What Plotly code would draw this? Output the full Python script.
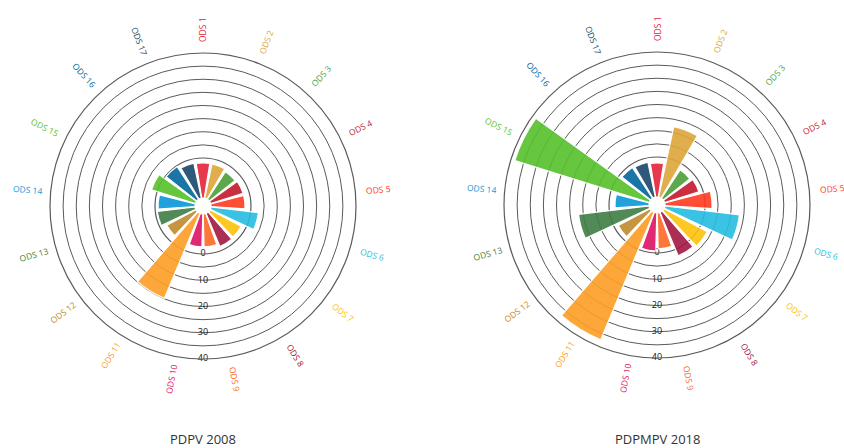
import math
import plotly.graph_objects as go

categories = [f"ODS {i}" for i in range(1, 18)]
sdg_colors = ["#E5243B", "#DDA63A", "#4C9F38", "#C5192D", "#FF3A21", "#26BDE2",
              "#FCC30B", "#A21942", "#FD6925", "#DD1367", "#FD9D24", "#BF8B2E",
              "#3F7E44", "#0A97D9", "#56C02B", "#00689D", "#19486A"]
values_2008 = [9.7, 9.7, 9.1, 9.4, 9.4, 13.2, 9.7, 9.9, 9.1, 9.1, 25.4, 9.1,
               10.5, 10.2, 12.7, 10.8, 9.9]
values_2018 = [9.4, 19.9, 9.4, 9.9, 13.0, 20.7, 13.5, 13.0, 9.9, 10.5, 38.1, 9.9,
               19.6, 9.4, 38.9, 10.2, 9.9]
ring_values = [0, 5, 10, 15, 20, 25, 30, 35, 40]
tick_labels = ["0", "10", "20", "30", "40"]
tick_values = [0, 10, 20, 30, 40]
titles = ["PDPV 2008", "PDPMPV 2018"]

W, H = 844, 448
R = 153
centers = [(203, 206), (657, 205)]
ring_color = "#5a5a5a"

fig = go.Figure()
layout = dict(width=W, height=H, margin=dict(l=0, r=0, t=0, b=0),
              paper_bgcolor="white", plot_bgcolor="white", showlegend=False)
annotations = []

for k, (vals, (cx, cy)) in enumerate(zip([values_2008, values_2018], centers)):
    dom_x = [(cx - R) / W, (cx + R) / W]
    dom_y = [(H - cy - R) / H, (H - cy + R) / H]
    ring_name = "polar" if k == 0 else f"polar{2*k+1}"
    bar_name = f"polar{2*k+2}"
    # rings / radial scale
    fig.add_trace(go.Scatterpolar(
        r=tick_values, theta=[180] * len(tick_values), mode="text",
        text=tick_labels, textfont=dict(size=9, color="#111", family="Open Sans"),
        textposition="middle center", subplot=ring_name, hoverinfo="skip"))
    layout[ring_name] = dict(
        domain=dict(x=dom_x, y=dom_y), hole=48 / 153, bgcolor="rgba(0,0,0,0)",
        radialaxis=dict(range=[0, 40], tickvals=ring_values, showticklabels=False,
                        showgrid=True, gridcolor=ring_color, gridwidth=1.2,
                        showline=False, ticks=""),
        angularaxis=dict(rotation=90, direction="clockwise", showgrid=False,
                         showticklabels=False, ticks="", showline=True,
                         linecolor=ring_color, linewidth=1.2),
    )
    # bars
    fig.add_trace(go.Barpolar(
        r=vals, theta=categories, width=[0.86] * len(categories),
        marker=dict(color=sdg_colors, opacity=0.9, line=dict(color="white", width=1.2)),
        subplot=bar_name, hoverinfo="skip"))
    layout[bar_name] = dict(
        domain=dict(x=dom_x, y=dom_y), hole=8 / 153, bgcolor="rgba(0,0,0,0)",
        radialaxis=dict(range=[0, 40], visible=False, showgrid=False),
        angularaxis=dict(rotation=90, direction="clockwise", categoryarray=categories,
                         categoryorder="array", showgrid=False, showticklabels=False,
                         ticks="", showline=False),
    )
    # category labels oriented radially
    n = len(categories)
    for i, (lab, col) in enumerate(zip(categories, sdg_colors)):
        th = i * 360 / n
        if th > 180:
            th -= 360
        rad = math.radians(th)
        x = (cx + 176 * math.sin(rad)) / W
        y = (H - cy + 176 * math.cos(rad)) / H
        ang = th - 90 if th >= 0 else th + 90
        annotations.append(dict(x=x, y=y, xref="paper", yref="paper", text=lab,
                                showarrow=False, textangle=ang,
                                font=dict(size=8.5, color=col, family="Open Sans"),
                                xanchor="center", yanchor="middle"))
    annotations.append(dict(x=cx / W, y=(H - 439) / H, xref="paper", yref="paper",
                            text=titles[k], showarrow=False,
                            font=dict(size=13, color="#333", family="Open Sans"),
                            xanchor="center", yanchor="middle"))

layout["annotations"] = annotations
fig.update_layout(**layout)
fig.write_html("out.html", config={"displayModeBar": False},
               post_script="document.body.style.margin='0';")
